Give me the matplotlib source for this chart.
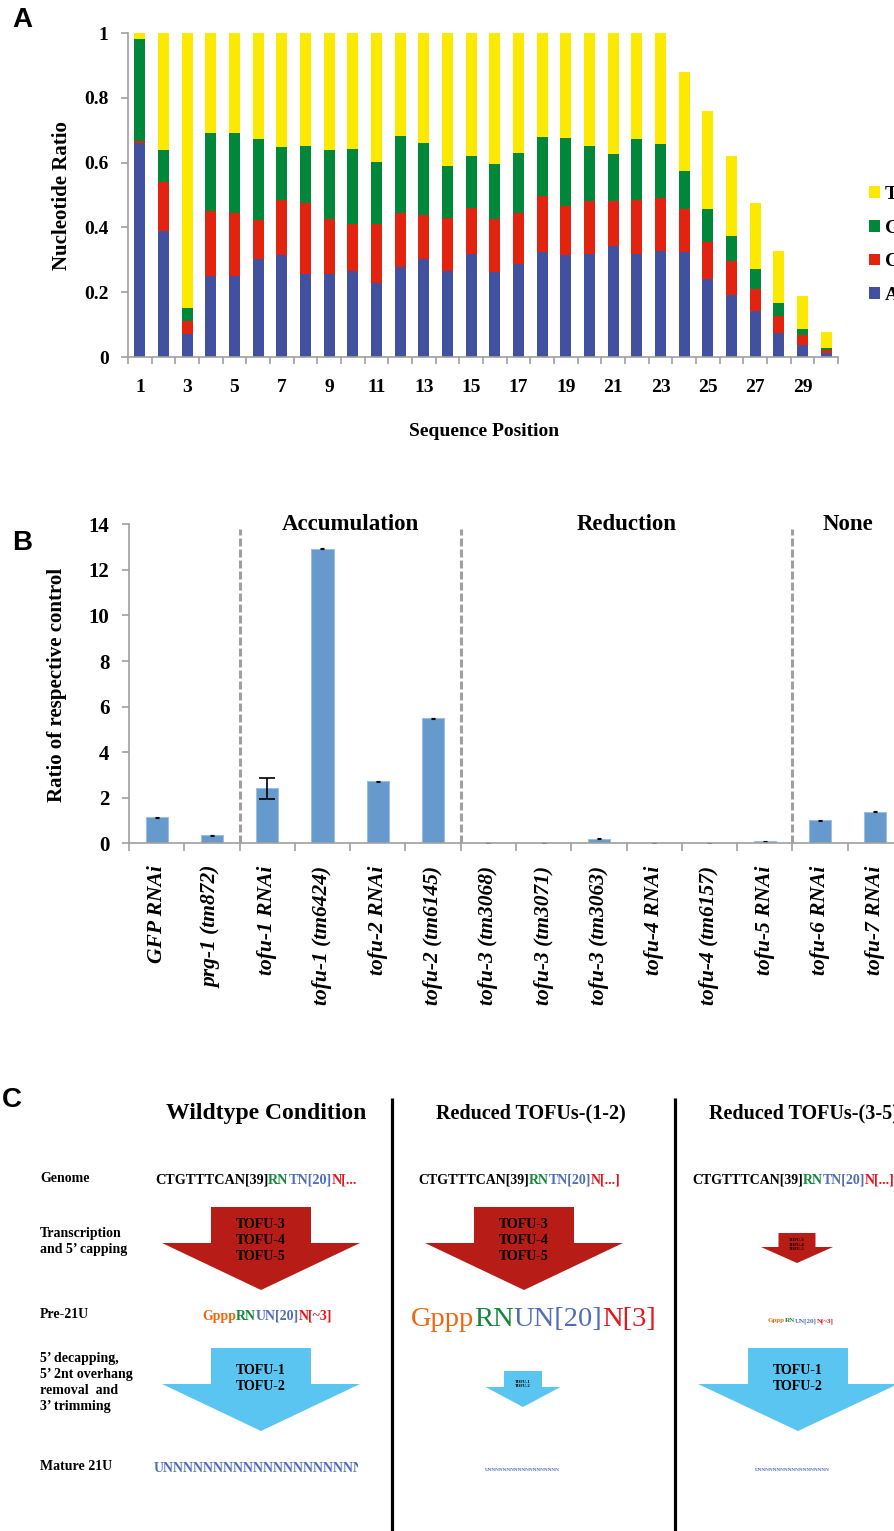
import matplotlib
matplotlib.use('Agg')
import matplotlib.pyplot as plt
import numpy as np
from matplotlib.transforms import Bbox
from matplotlib.patches import Polygon

# ---------------- data ----------------
positions = list(range(1, 31))
frac_A = [0.659, 0.389, 0.072, 0.249, 0.250, 0.301, 0.316, 0.256, 0.256, 0.265,
          0.227, 0.279, 0.302, 0.265, 0.319, 0.262, 0.288, 0.324, 0.314, 0.319,
          0.342, 0.319, 0.326, 0.324, 0.240, 0.191, 0.143, 0.074, 0.038, 0.013]
frac_C = [0.008, 0.151, 0.039, 0.201, 0.194, 0.122, 0.170, 0.218, 0.169, 0.147,
          0.184, 0.165, 0.135, 0.164, 0.142, 0.163, 0.156, 0.173, 0.153, 0.162,
          0.139, 0.166, 0.165, 0.134, 0.115, 0.104, 0.067, 0.054, 0.031, 0.009]
frac_G = [0.314, 0.098, 0.041, 0.240, 0.248, 0.251, 0.162, 0.177, 0.213, 0.229,
          0.192, 0.237, 0.222, 0.159, 0.159, 0.170, 0.187, 0.181, 0.208, 0.170,
          0.147, 0.188, 0.166, 0.115, 0.102, 0.080, 0.062, 0.039, 0.017, 0.006]
frac_T = [0.019, 0.362, 0.848, 0.310, 0.308, 0.326, 0.352, 0.349, 0.362, 0.359,
          0.397, 0.319, 0.341, 0.412, 0.380, 0.405, 0.369, 0.322, 0.325, 0.349,
          0.372, 0.327, 0.343, 0.306, 0.301, 0.244, 0.203, 0.160, 0.103, 0.048]
a_ytick_labels = ['0', '0.2', '0.4', '0.6', '0.8', '1']

strains = ['GFP RNAi', 'prg-1 (tm872)', 'tofu-1 RNAi', 'tofu-1 (tm6424)', 'tofu-2 RNAi',
           'tofu-2 (tm6145)', 'tofu-3 (tm3068)', 'tofu-3 (tm3071)', 'tofu-3 (tm3063)',
           'tofu-4 RNAi', 'tofu-4 (tm6157)', 'tofu-5 RNAi', 'tofu-6 RNAi', 'tofu-7 RNAi']
ratio = [1.14, 0.35, 2.41, 12.92, 2.73, 5.48, 0.01, 0.01, 0.20, 0.01, 0.01, 0.09, 1.02, 1.39]
ratio_err = [0.02, 0.02, 0.47, 0.02, 0.02, 0.02, 0.0, 0.0, 0.02, 0.0, 0.0, 0.02, 0.02, 0.03]
group_names = ['Accumulation', 'Reduction', 'None']
group_bounds = [(1.5, 5.5), (5.5, 11.5), (11.5, 13.5)]

# ---------------- figure ----------------
W, H = 895, 1531
fig = plt.figure(figsize=(W / 100, H / 100), dpi=100)
SERIF = 'Liberation Serif'
SANS = 'Liberation Sans'
GREY = '#A0A0A0'


def rect(x0, y0, x1, y1):
    return [x0 / W, 1 - y1 / H, (x1 - x0) / W, (y1 - y0) / H]


def ftext(x, y, s, **kw):
    return fig.text(x / W, 1 - y / H, s, **kw)


# ---------------- panel A ----------------
axA = fig.add_axes(rect(128, 33, 838, 357))
bottom = np.zeros(len(positions))
handles = []
for vals, col, lab in [(frac_A, '#41509F', 'A'), (frac_C, '#E2230F', 'C'),
                       (frac_G, '#00873A', 'G'), (frac_T, '#FBEA00', 'T')]:
    b = axA.bar(positions, vals, 0.47, bottom=bottom, color=col, label=lab, linewidth=0)
    handles.append(b)
    bottom += np.array(vals)
axA.set_xlim(0.5, 30.5)
axA.set_ylim(0, 1)
for s in ['top', 'right']:
    axA.spines[s].set_visible(False)
for s in ['left', 'bottom']:
    axA.spines[s].set_color(GREY)
    axA.spines[s].set_linewidth(1.2)
axA.set_yticks(np.linspace(0, 1, 6))
axA.set_yticklabels(a_ytick_labels, fontfamily=SERIF, fontweight='bold', fontsize=14)
axA.tick_params(axis='y', length=5, color=GREY, width=1.2, pad=9)
axA.set_xticks(positions[::2])
axA.set_xticklabels([str(p) for p in positions[::2]], fontfamily=SERIF, fontweight='bold', fontsize=14)
axA.set_xticks(np.arange(0.5, 31, 1), minor=True)
axA.tick_params(axis='x', which='major', length=0, pad=16)
axA.tick_params(axis='x', which='minor', length=5, color=GREY, width=1.2)
axA.legend(handles[::-1], ['T', 'G', 'C', 'A'], loc='upper left',
           bbox_to_anchor=(869 / W, 1 - 186 / H), bbox_transform=fig.transFigure,
           frameon=False, prop=dict(family=SERIF, weight='bold', size=14),
           handlelength=0.55, handleheight=0.55, handletextpad=0.25,
           labelspacing=0.86, borderpad=0, borderaxespad=0)
ftext(62, 196, 'Nucleotide Ratio', rotation=90, ha='center', va='center',
      fontfamily=SERIF, fontweight='bold', fontsize=15)
ftext(484, 432, 'Sequence Position', ha='center', va='center',
      fontfamily=SERIF, fontweight='bold', fontsize=14)
ftext(22, 20, 'A', ha='center', va='center', fontfamily=SANS, fontweight='bold', fontsize=20)

# ---------------- panel B ----------------
axB = fig.add_axes(rect(129, 524.3, 903, 843.3))
xb = np.arange(len(strains))
ratio_a = np.array(ratio)
err_a = np.array(ratio_err)
axB.bar(xb, ratio_a, 0.4, color='#6699CC', edgecolor='#9DBEE3', linewidth=0.8)
big = err_a > 0.1
axB.errorbar(xb[big], ratio_a[big], yerr=err_a[big], fmt='none', ecolor='black',
             elinewidth=1.2, capsize=5.5, capthick=1.2)
axB.errorbar(xb[~big], ratio_a[~big], yerr=err_a[~big], fmt='none', ecolor='black',
             elinewidth=0.8, capsize=1.2, capthick=0.8)
axB.set_xlim(-0.5, len(strains) - 0.5)
axB.set_ylim(0, 14)
for s in ['top', 'right']:
    axB.spines[s].set_visible(False)
for s in ['left', 'bottom']:
    axB.spines[s].set_color(GREY)
    axB.spines[s].set_linewidth(1.2)
axB.set_yticks(np.arange(0, 15, 2))
axB.set_yticklabels([str(v) for v in range(0, 15, 2)], fontfamily=SERIF, fontweight='bold', fontsize=15)
axB.tick_params(axis='y', length=5, color=GREY, width=1.2, pad=9)
axB.set_xticks(xb)
axB.set_xticklabels(strains, rotation=90, fontfamily=SERIF, fontweight='bold',
                    fontstyle='italic', fontsize=15.5, va='top', ha='center')
axB.set_xticks(np.arange(-0.5, len(strains), 1), minor=True)
axB.tick_params(axis='x', which='major', length=0, pad=16)
axB.tick_params(axis='x', which='minor', length=6, color=GREY, width=1.2)
for (lo, hi), name in zip(group_bounds, group_names):
    axB.text((lo + hi) / 2, 14.0, name, ha='center', va='center', fontfamily=SERIF,
             fontweight='bold', fontsize=16.5, clip_on=False)
axB.vlines([b[0] for b in group_bounds], 0, 13.8, colors=GREY, linewidth=2.2,
           linestyles=(0, (2.6, 1.0)))
ftext(57, 685, 'Ratio of respective control', rotation=90, ha='center', va='center',
      fontfamily=SERIF, fontweight='bold', fontsize=15)
ftext(22, 543, 'B', ha='center', va='center', fontfamily=SANS, fontweight='bold', fontsize=20)

# ---------------- panel C (diagram) ----------------
axC = fig.add_axes([0, 0, 1, 1])
axC.set_xlim(0, W)
axC.set_ylim(H, 0)
axC.axis('off')
axC.patch.set_alpha(0)
renderer = fig.canvas.get_renderer()

ORANGE, GREEN, BLUE, RED = '#F0650E', '#13873C', '#4F6DB8', '#E8141B'
ARROW_RED, ARROW_BLUE = '#B71C16', '#5BC5F2'

ftext(12, 1100, 'C', ha='center', va='center', fontfamily=SANS, fontweight='bold', fontsize=20)

for xd in [392, 675]:
    axC.plot([xd, xd], [1098, H], color='black', linewidth=2.3, solid_capstyle='butt')

axC.text(266, 1113, 'Wildtype Condition', ha='center', va='center', fontfamily=SERIF,
         fontweight='bold', fontsize=17)
axC.text(531, 1113, 'Reduced TOFUs-(1-2)', ha='center', va='center', fontfamily=SERIF,
         fontweight='bold', fontsize=14.5)
axC.text(709, 1113, 'Reduced TOFUs-(3-5)', ha='left', va='center', fontfamily=SERIF,
         fontweight='bold', fontsize=14.5)

row_kw = dict(ha='left', va='center', fontfamily=SERIF, fontweight='bold', fontsize=10)
axC.text(40, 1179, 'Genome', **row_kw)
axC.text(40, 1241.5, 'Transcription\nand 5\u2019 capping', linespacing=1.4, **row_kw)
axC.text(40, 1315, 'Pre-21U', **row_kw)
axC.text(40, 1382.5, '5\u2019 decapping,\n5\u2019 2nt overhang\nremoval  and\n3\u2019 trimming',
         linespacing=1.32, **row_kw)
axC.text(40, 1467, 'Mature 21U', **row_kw)


def _width(s, kw):
    t = axC.text(0, 0, s, **kw)
    w = t.get_window_extent(renderer).width
    t.remove()
    return w


def colored(x, y, segs, size, weight='bold', clip_x=None):
    """Place text segments of different colours on one baseline with natural spacing;
    y is the approximate centre of the capitals."""
    base = y + 0.34 * size * 100 / 72
    kw = dict(fontfamily=SERIF, fontweight=weight, fontsize=size, va='baseline', ha='left')
    cb = Bbox.from_extents(0, 0, clip_x, H) if clip_x is not None else None
    w_ref = _width('H', kw)
    prefix = ''
    for s, c in segs:
        off = (_width(prefix + 'H', kw) - w_ref) if prefix else 0.0
        t = axC.text(x + off, base, s, color=c, **kw)
        if cb is not None:
            t.set_clip_on(True)
            t.set_clip_box(cb)
        prefix += s


genome = [('CTGTTTCAN[39]', 'black'), ('RN', GREEN), ('TN[20]', BLUE), ('N[...]', RED)]
colored(155, 1179, genome, 10.2, clip_x=356)
colored(418, 1179, genome, 10)
colored(692, 1179, genome, 10)

pre1 = [('Gppp', ORANGE), ('RN', GREEN), ('UN[20]', BLUE), ('N[~3]', RED)]
pre2 = [('Gppp', ORANGE), ('RN', GREEN), ('UN[20]', BLUE), ('N[3]', RED)]
colored(202, 1315, pre1, 10)
colored(411, 1316, pre2, 20.5, weight='normal')
colored(768, 1320, pre1, 5)

colored(154, 1467, [('U' + 'N' * 21, BLUE)], 10, clip_x=358)
colored(485, 1469, [('U' + 'N' * 19, BLUE)], 3.7)
colored(755, 1469, [('U' + 'N' * 19, BLUE)], 3.7)


def arrow(cx, sw, top, wing, hw, tip, color):
    pts = [(cx - sw, top), (cx + sw, top), (cx + sw, wing), (cx + hw, wing), (cx, tip),
           (cx - hw, wing), (cx - sw, wing)]
    axC.add_patch(Polygon(pts, closed=True, facecolor=color, edgecolor='none'))


arrow(261, 50, 1207, 1243, 99, 1290, ARROW_RED)
arrow(524, 50, 1207, 1243, 99, 1290, ARROW_RED)
arrow(797, 18.5, 1233, 1247, 36, 1263, ARROW_RED)
arrow(261, 50, 1348, 1384, 99, 1431, ARROW_BLUE)
arrow(523, 19, 1371, 1387, 37.5, 1407, ARROW_BLUE)
arrow(798, 50, 1348, 1384, 100, 1431, ARROW_BLUE)

tkw = dict(ha='center', va='center', fontfamily=SERIF, fontweight='bold', multialignment='center')
axC.text(261, 1241, 'TOFU-3\nTOFU-4\nTOFU-5', fontsize=10, linespacing=1.3, **tkw)
axC.text(524, 1241, 'TOFU-3\nTOFU-4\nTOFU-5', fontsize=10, linespacing=1.3, **tkw)
axC.text(797, 1244.5, 'TOFU-3\nTOFU-4\nTOFU-5', fontsize=3.2, linespacing=1.3, **tkw)
axC.text(261, 1379, 'TOFU-1\nTOFU-2', fontsize=10, linespacing=1.3, **tkw)
axC.text(523, 1384, 'TOFU-1\nTOFU-2', fontsize=3.2, linespacing=1.3, **tkw)
axC.text(798, 1379, 'TOFU-1\nTOFU-2', fontsize=10, linespacing=1.3, **tkw)

fig.savefig('out.png', dpi=100)
